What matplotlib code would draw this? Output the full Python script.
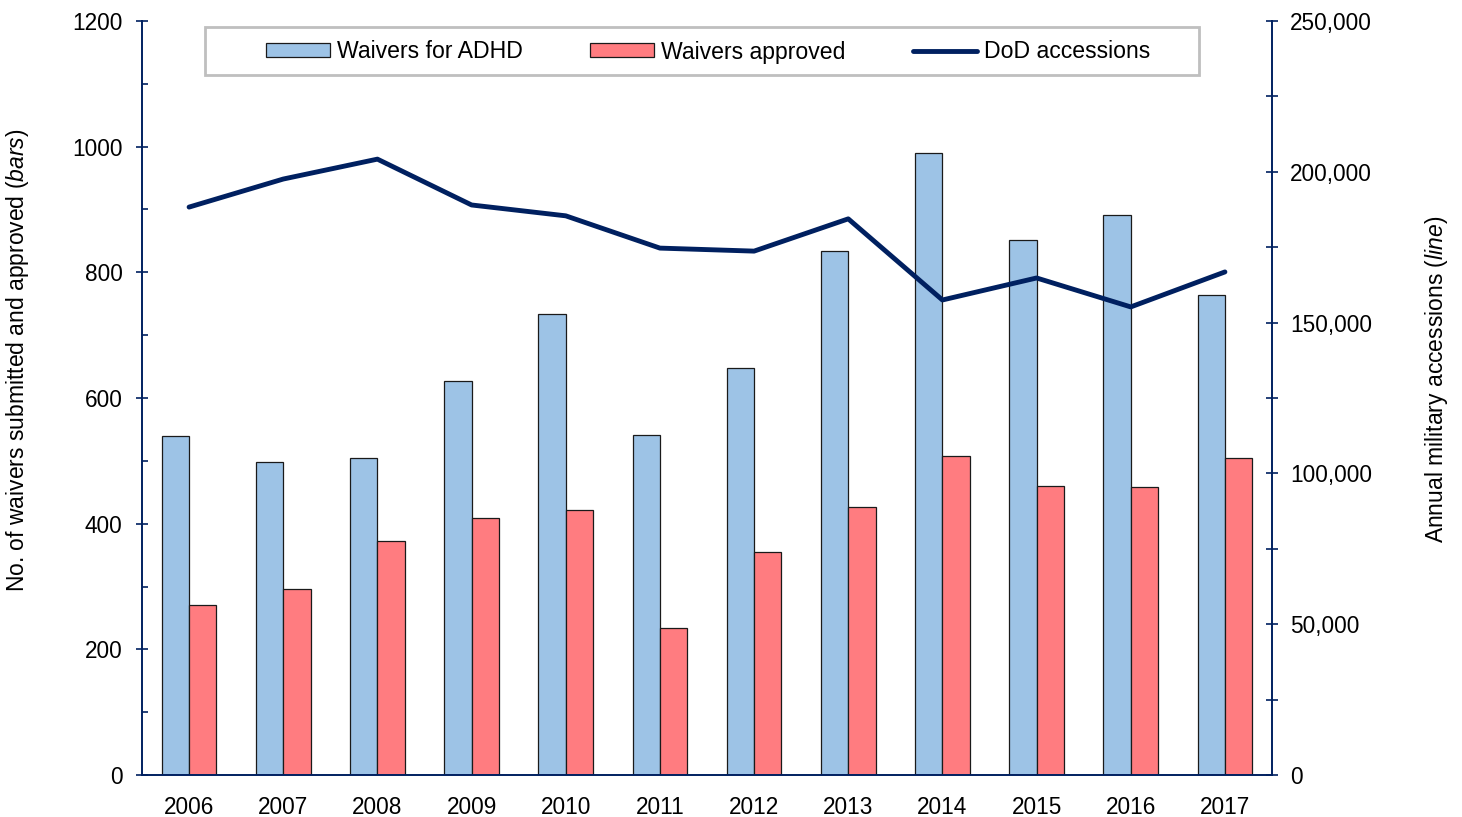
import matplotlib
matplotlib.use("Agg")
import matplotlib.pyplot as plt
import numpy as np
from matplotlib.ticker import MultipleLocator, FuncFormatter
from matplotlib.patches import Rectangle

years = ["2006", "2007", "2008", "2009", "2010", "2011", "2012", "2013", "2014", "2015", "2016", "2017"]
waivers_adhd = [540, 498, 505, 627, 734, 541, 648, 834, 990, 852, 891, 764]
waivers_approved = [271, 296, 372, 409, 422, 234, 355, 427, 508, 460, 458, 505]
dod_accessions = [188300, 197600, 204200, 189000, 185400, 174700, 173700, 184400, 157500, 164800, 155200, 166800]

plt.rcParams['font.family'] = ['Liberation Sans', 'DejaVu Sans']
plt.rcParams['mathtext.fontset'] = 'custom'
plt.rcParams['mathtext.it'] = 'Liberation Sans:italic'
plt.rcParams['mathtext.rm'] = 'Liberation Sans'

navy = '#002060'
blue = '#9DC3E6'
red = '#FF7C80'
fs = 16.3

W, H = 1462, 817
fig = plt.figure(figsize=(W / 100, H / 100), dpi=100)
ax = fig.add_axes([142 / W, 1 - 775 / H, (1272 - 142) / W, (775 - 21) / H])
ax2 = ax.twinx()

x = np.arange(len(years))
bw = 0.29
b1 = ax.bar(x - bw / 2, waivers_adhd, bw, color=blue, edgecolor='#1a1a1a', linewidth=0.9, label='Waivers for ADHD')
b2 = ax.bar(x + bw / 2, waivers_approved, bw, color=red, edgecolor='#1a1a1a', linewidth=0.9, label='Waivers approved')
ln, = ax2.plot(x, dod_accessions, color=navy, linewidth=3.5, label='DoD accessions', solid_capstyle='round')

ax.set_xlim(-0.5, len(years) - 0.5)
ax.set_ylim(0, 1200)
ax2.set_ylim(0, 250000)

ax.yaxis.set_major_locator(MultipleLocator(200))
ax.yaxis.set_minor_locator(MultipleLocator(100))
ax2.yaxis.set_major_locator(MultipleLocator(50000))
ax2.yaxis.set_minor_locator(MultipleLocator(25000))
ax2.yaxis.set_major_formatter(FuncFormatter(lambda v, p: f"{int(v):,}"))

ax.set_xticks(x)
ax.set_xticklabels(years)

for a in (ax, ax2):
    for s in a.spines.values():
        s.set_color(navy)
        s.set_linewidth(1.2)
    a.spines['top'].set_visible(False)

ax.tick_params(axis='x', length=0, pad=15, labelsize=fs)
ax.tick_params(axis='y', which='major', direction='inout', length=8, width=1.2, color=navy, pad=10, labelsize=fs)
ax.tick_params(axis='y', which='minor', direction='in', length=4, width=1.2, color=navy)
ax2.tick_params(axis='y', which='major', direction='inout', length=8, width=1.2, color=navy, pad=9, labelsize=fs)
ax2.tick_params(axis='y', which='minor', direction='inout', length=8, width=1.2, color=navy)

fig.text(18 / W, 1 - 360 / H, r'No. of waivers submitted and approved ($\it{bars}$)', rotation=90,
         ha='center', va='center', fontsize=16.5)
fig.text(1437 / W, 1 - 379 / H, r'Annual military accessions ($\it{line}$)', rotation=90,
         ha='center', va='center', fontsize=16.5)

# legend frame
fig.patches.append(Rectangle((205 / W, 1 - 75 / H), (1199 - 205) / W, 48 / H, transform=fig.transFigure,
                             facecolor='white', edgecolor='#BFBFBF', linewidth=2, zorder=5))
leg = fig.legend([b1, b2, ln], ['Waivers for ADHD', 'Waivers approved', 'DoD accessions'],
                 loc='center', bbox_to_anchor=(708 / W, 1 - 52 / H),
                 ncol=3, fontsize=16.6, frameon=False,
                 handlelength=2.8, handleheight=0.55, handletextpad=0.3, columnspacing=2.9,
                 borderaxespad=0, borderpad=0)
leg.set_zorder(6)

fig.savefig('out.png', dpi=100)
